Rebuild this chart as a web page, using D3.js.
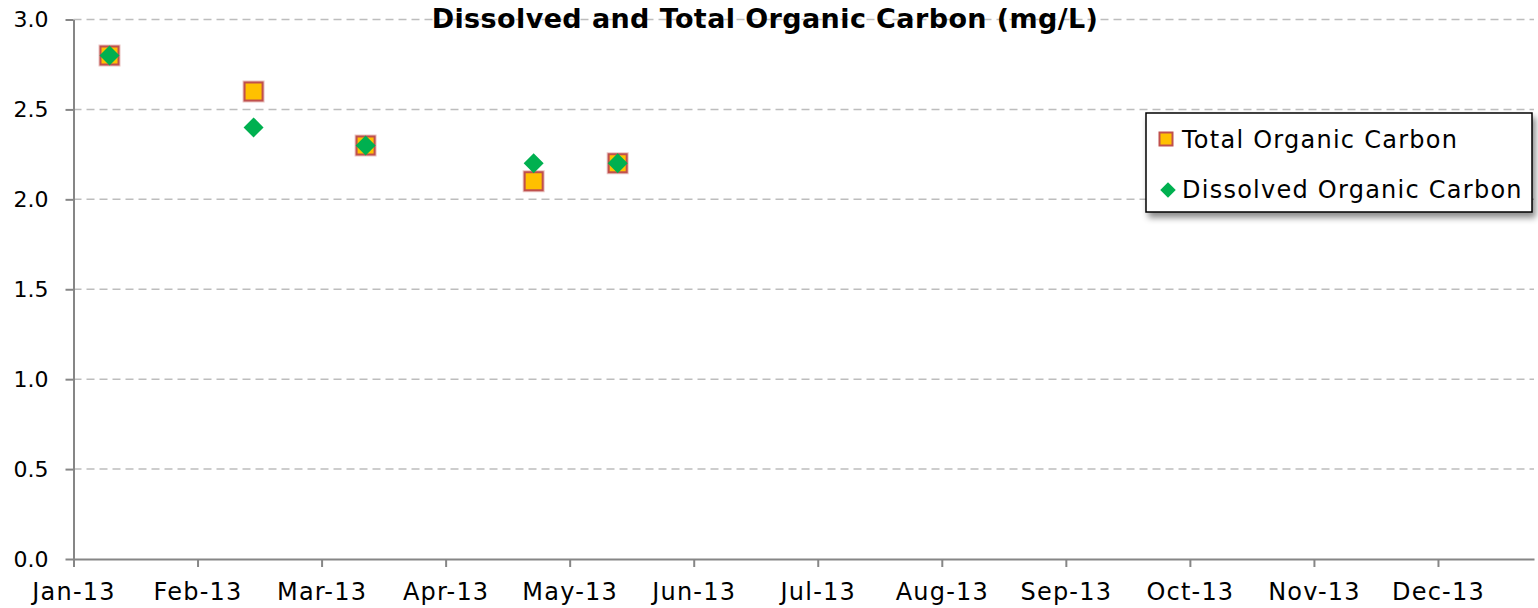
<!DOCTYPE html>
<html>
<head>
<meta charset="utf-8">
<script src="https://cdn.jsdelivr.net/npm/d3@7"></script>
<style>
  body { margin: 0; background: #fff; }
  svg { display: block; font-family: 'DejaVu Sans', sans-serif; }
</style>
</head>
<body>
<svg id="chart" width="1538" height="608"></svg>
<script>
const sampleDates = ['2013-01-10', '2013-02-15', '2013-03-15', '2013-04-26', '2013-05-17'];
const totalOrganicCarbon = [2.8, 2.6, 2.3, 2.1, 2.2];
const dissolvedOrganicCarbon = [2.8, 2.4, 2.3, 2.2, 2.2];
const yTickValues = [0, 0.5, 1.0, 1.5, 2.0, 2.5, 3.0];
const xDomain = ['2013-01-01', '2014-01-01'];
const xTickStepDays = 31;
const seriesNames = ['Total Organic Carbon', 'Dissolved Organic Carbon'];

const svg = d3.select('#chart');
const margin = {top: 19.5, right: 4, bottom: 49, left: 73.5};
const width = +svg.attr('width') - margin.left - margin.right;
const height = +svg.attr('height') - margin.top - margin.bottom;
const parse = d3.utcParse('%Y-%m-%d');

const x = d3.scaleUtc().domain(xDomain.map(parse)).range([0, width]);
const y = d3.scaleLinear().domain([0, 3]).range([height, 0]);

const xTicks = d3.range(0, 365, xTickStepDays).map(function(d) { return d3.utcDay.offset(parse(xDomain[0]), d); });

const defs = svg.append('defs');
const shadow = defs.append('filter').attr('id', 'shadow')
    .attr('x', '-10%').attr('y', '-20%').attr('width', '130%').attr('height', '160%');
shadow.append('feDropShadow')
    .attr('dx', 3).attr('dy', 5).attr('stdDeviation', 3)
    .attr('flood-color', '#000').attr('flood-opacity', 0.45);

const g = svg.append('g').attr('transform', 'translate(' + margin.left + ',' + margin.top + ')');

// dashed gridlines
g.append('g')
    .selectAll('line')
    .data(yTickValues.filter(function(d) { return d > 0; }))
    .enter().append('line')
    .attr('x1', 0).attr('x2', width)
    .attr('y1', function(d) { return y(d); })
    .attr('y2', function(d) { return y(d); })
    .attr('stroke', '#bdbdbd')
    .attr('stroke-width', 1.5)
    .attr('stroke-dasharray', '8,5');

const yAxis = g.append('g')
    .call(d3.axisLeft(y).tickValues(yTickValues).tickFormat(d3.format('.1f')).tickSize(8).tickSizeOuter(0).tickPadding(17));
const xAxis = g.append('g')
    .attr('transform', 'translate(0,' + height + ')')
    .call(d3.axisBottom(x).tickValues(xTicks).tickFormat(d3.utcFormat('%b-%y')).tickSize(8).tickSizeOuter(0).tickPadding(16));

[yAxis, xAxis].forEach(function(a) {
  a.attr('font-family', 'DejaVu Sans');
  a.select('.domain').attr('stroke', '#868686').attr('stroke-width', 2);
  a.selectAll('.tick line').attr('stroke', '#868686').attr('stroke-width', 2);
  a.selectAll('.tick text').attr('fill', '#000');
});
yAxis.attr('font-size', 22);
xAxis.attr('font-size', 24).selectAll('.tick text').attr('letter-spacing', 1.2);

const square = d3.symbol(d3.symbolSquare, 18 * 18);
const diamond = d3.symbol(d3.symbolSquare, 200);

const points = sampleDates.map(function(d, i) {
  return {date: parse(d), toc: totalOrganicCarbon[i], doc: dissolvedOrganicCarbon[i]};
});

// total organic carbon squares, with a faint halo like the original
g.append('g')
    .selectAll('path')
    .data(points)
    .enter().append('path')
    .attr('d', square)
    .attr('transform', function(d) { return 'translate(' + x(d.date) + ',' + y(d.toc) + ')'; })
    .attr('fill', '#ffc000')
    .attr('stroke', '#c0504d')
    .attr('stroke-opacity', 0.35)
    .attr('stroke-width', 4);

g.append('g')
    .selectAll('path')
    .data(points)
    .enter().append('path')
    .attr('d', square)
    .attr('transform', function(d) { return 'translate(' + x(d.date) + ',' + y(d.toc) + ')'; })
    .attr('fill', '#ffc000')
    .attr('stroke', '#c0504d')
    .attr('stroke-width', 2);

g.append('g')
    .selectAll('path')
    .data(points)
    .enter().append('path')
    .attr('d', diamond)
    .attr('transform', function(d) { return 'translate(' + x(d.date) + ',' + y(d.doc) + ') rotate(45)'; })
    .attr('fill', '#00b050');

svg.append('text')
    .attr('x', 765)
    .attr('y', 28)
    .attr('text-anchor', 'middle')
    .attr('font-family', 'DejaVu Sans')
    .attr('font-weight', 'bold')
    .attr('font-size', 27)
    .attr('letter-spacing', 0.4)
    .text('Dissolved and Total Organic Carbon (mg/L)');

// legend
const legend = svg.append('g').attr('transform', 'translate(1146,113)');
legend.append('rect')
    .attr('width', 386).attr('height', 99)
    .attr('fill', '#fff')
    .attr('stroke', '#000')
    .attr('stroke-width', 1.5)
    .attr('filter', 'url(#shadow)');

const items = legend.selectAll('.item')
    .data(seriesNames)
    .enter().append('g')
    .attr('class', 'item')
    .attr('transform', function(d, i) { return 'translate(0,' + (26 + i * 50) + ')'; });

items.append('path')
    .attr('d', function(d, i) { return i === 0 ? d3.symbol(d3.symbolSquare, 13 * 13)() : d3.symbol(d3.symbolSquare, 120)(); })
    .attr('transform', function(d, i) { return i === 0 ? 'translate(20,0)' : 'translate(22,1) rotate(45)'; })
    .attr('fill', function(d, i) { return i === 0 ? '#ffc000' : '#00b050'; })
    .attr('stroke', function(d, i) { return i === 0 ? '#c0504d' : 'none'; })
    .attr('stroke-width', 2);

items.append('text')
    .attr('x', 36)
    .attr('y', 9)
    .attr('font-size', 24)
    .attr('letter-spacing', 1.25)
    .text(function(d) { return d; });
</script>
</body>
</html>
